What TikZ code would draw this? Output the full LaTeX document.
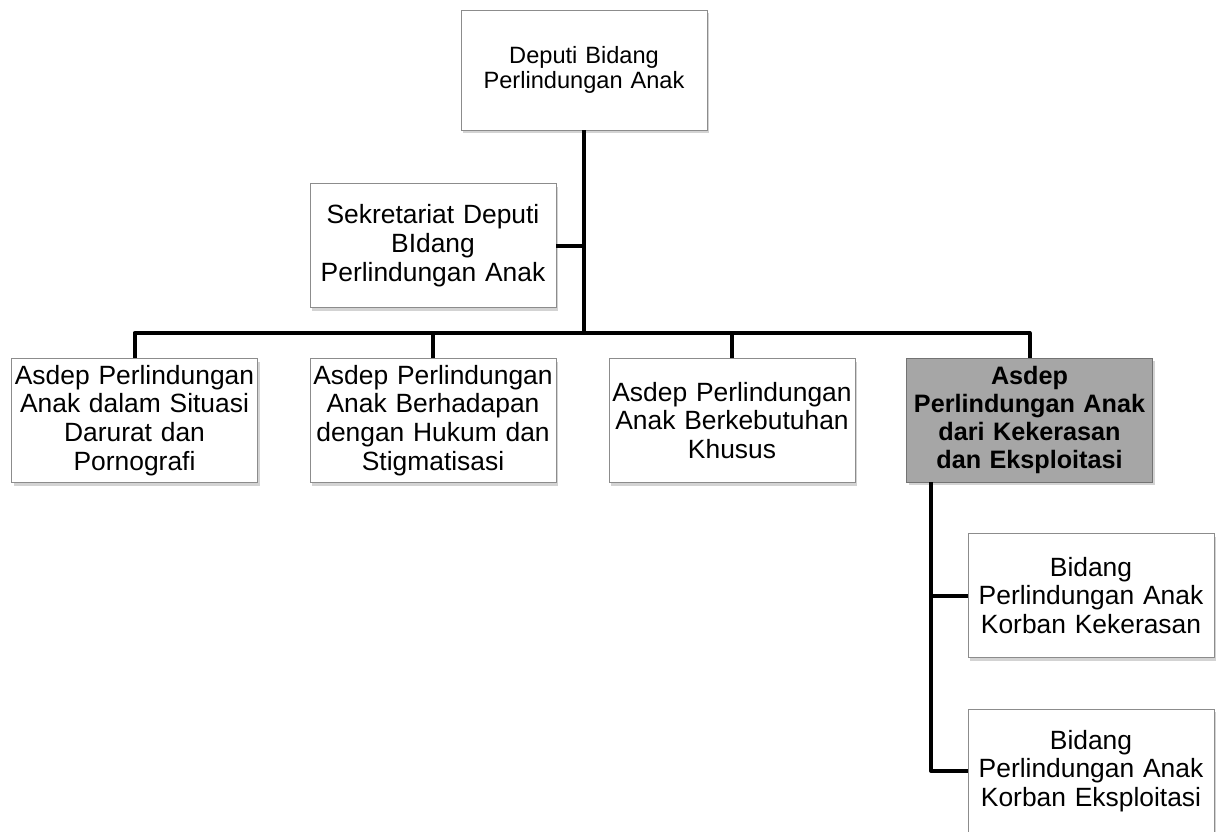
\documentclass[tikz,border=0pt]{standalone}
\usepackage{fontspec}
\setmainfont{Liberation Sans}
\usetikzlibrary{shadows}
\definecolor{boxline}{HTML}{8C8C8C}
\definecolor{boxgray}{HTML}{A6A6A6}
\begin{document}
\begin{tikzpicture}[x=0.5pt,y=-0.5pt]
		\tikzset{nd/.style={rectangle, draw=boxline, fill=white, minimum width=123pt, minimum height=62pt, text width=121pt, inner sep=1pt, align=center, font=\fontsize{13.2}{14.4}\selectfont, drop shadow={shadow xshift=1pt, shadow yshift=-1.5pt, opacity=0.35}},
			ln/.style={line width=2pt, line join=round}};

		\useasboundingbox (0,0) rectangle (1222,831);

		\node[nd, minimum height=60pt, font=\fontsize{11.8}{12.8}\selectfont] (dep) at (584,70) {Deputi Bidang\\Perlindungan Anak};
		\node[nd] (sek) at (433,245.5) {Sekretariat Deputi\\BIdang\\Perlindungan Anak};
		\node[nd] (a1) at (134.5,420.5) {Asdep Perlindungan\\Anak dalam Situasi\\Darurat dan\\Pornografi};
		\node[nd] (a2) at (433,420.5) {Asdep Perlindungan\\Anak Berhadapan\\dengan Hukum dan\\Stigmatisasi};
		\node[nd] (a3) at (732,420.5) {Asdep Perlindungan\\Anak Berkebutuhan\\Khusus};
		\node[nd, fill=boxgray, draw=black!55, text width=122.5pt, inner sep=0.25pt, font=\fontsize{12.6}{14}\selectfont\bfseries] (a4) at (1029.5,420) {Asdep\\Perlindungan Anak\\dari Kekerasan\\dan Eksploitasi};
		\node[nd] (b1) at (1091,595.5) {Bidang\\Perlindungan Anak\\Korban Kekerasan};
		\node[nd] (b2) at (1091,771) {Bidang\\Perlindungan Anak\\Korban Eksploitasi};

		\coordinate (bar) at (584,333);

		\draw[ln] (dep.south) -- (bar);
		\draw[ln] (sek.east) -- (sek.east -| dep.south);
		\draw[ln] (a1.north) -- (a1.north |- bar) -- (a4.north |- bar) -- (a4.north);
		\draw[ln] (a2.north) -- (a2.north |- bar);
		\draw[ln] (a3.north) -- (a3.north |- bar);

		\draw[ln] ([xshift=12.5pt]a4.south west) |- (b1.west);
		\draw[ln] ([xshift=12.5pt]a4.south west) |- (b2.west);

	\end{tikzpicture}
\end{document}
